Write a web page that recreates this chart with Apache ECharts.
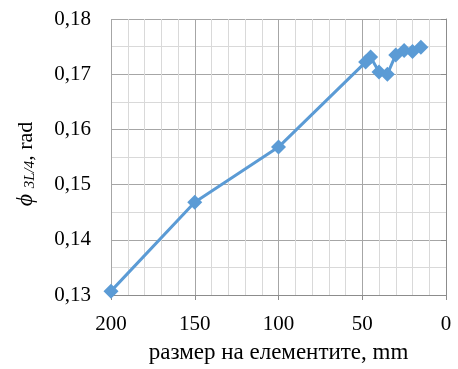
<!DOCTYPE html>
<html>
<head>
<meta charset="utf-8">
<script src="https://cdn.jsdelivr.net/npm/echarts@6/dist/echarts.min.js"></script>
<style>
  html, body { margin: 0; padding: 0; background: #fff; }
  #container { width: 458px; height: 369px; }
</style>
</head>
<body>
<div id="container"></div>
<script>
// размер на елементите (mm) и ъгъл (rad)
var sizes = [200, 150, 100, 48, 45, 40, 35, 30, 25, 20, 15];
var angles = [0.1307, 0.1468, 0.1568, 0.1722, 0.1731, 0.1704, 0.1700, 0.1735, 0.1743, 0.1741, 0.1749];
var xTicks = [0, 50, 100, 150, 200];
var yTicks = [0.13, 0.14, 0.15, 0.16, 0.17, 0.18];

var FONT = '"Liberation Serif", "DejaVu Serif", serif';

function comma(v) {
    return v.toFixed(2).replace('.', ',');
}

var points = [];
for (var i = 0; i < sizes.length; i++) {
    points.push([sizes[i], angles[i]]);
}

var chart = echarts.init(document.getElementById('container'));
var option = {
    animation: false,
    grid: { left: 111, right: 12, top: 19, bottom: 70, containLabel: false },
    xAxis: {
        type: 'value',
        inverse: true,
        min: xTicks[0],
        max: xTicks[xTicks.length - 1],
        interval: 50,
        name: 'размер на елементите, mm',
        nameLocation: 'middle',
        nameGap: 46,
        nameTextStyle: { fontFamily: FONT, fontSize: 23, color: '#000' },
        axisLine: { show: true, lineStyle: { color: '#8c8c8c', width: 1 } },
        axisTick: { show: true, length: 5, lineStyle: { color: '#8c8c8c' } },
        axisLabel: { fontFamily: FONT, fontSize: 21, color: '#000', margin: 19 },
        splitLine: { show: true, lineStyle: { color: '#a6a6a6', width: 1 } },
        minorTick: { show: false, splitNumber: 5 },
        minorSplitLine: { show: true, lineStyle: { color: '#d9d9d9', width: 1 } }
    },
    yAxis: {
        type: 'value',
        min: yTicks[0],
        max: yTicks[yTicks.length - 1],
        interval: 0.01,
        name: '{phi|ϕ} {sub|3L/4}{t|, rad}{e| }',
        nameLocation: 'middle',
        nameRotate: 90,
        nameGap: 73,
        nameTextStyle: {
            fontFamily: FONT, fontSize: 22, color: '#000',
            rich: {
                phi: { fontFamily: FONT, fontSize: 24, fontStyle: 'italic', color: '#000' },
                sub: { fontFamily: FONT, fontSize: 15, fontStyle: 'italic', color: '#000', verticalAlign: 'bottom', padding: [8, 0, 0, 0] },
                t: { fontFamily: FONT, fontSize: 22, color: '#000' },
                e: { width: 14 }
            }
        },
        axisLine: { show: true, lineStyle: { color: '#8c8c8c', width: 1 } },
        axisTick: { show: true, length: 5, lineStyle: { color: '#8c8c8c' } },
        axisLabel: {
            fontFamily: FONT, fontSize: 21, color: '#000', margin: 20,
            formatter: function (v) { return comma(v); }
        },
        splitLine: { show: true, lineStyle: { color: '#a6a6a6', width: 1 } },
        minorTick: { show: false, splitNumber: 2 },
        minorSplitLine: { show: true, lineStyle: { color: '#d9d9d9', width: 1 } }
    },
    series: [{
        type: 'line',
        data: points,
        symbol: 'diamond',
        symbolSize: 15,
        lineStyle: { color: '#5b9bd5', width: 3 },
        itemStyle: { color: '#5b9bd5' }
    }]
};
chart.setOption(option);
</script>
</body>
</html>
